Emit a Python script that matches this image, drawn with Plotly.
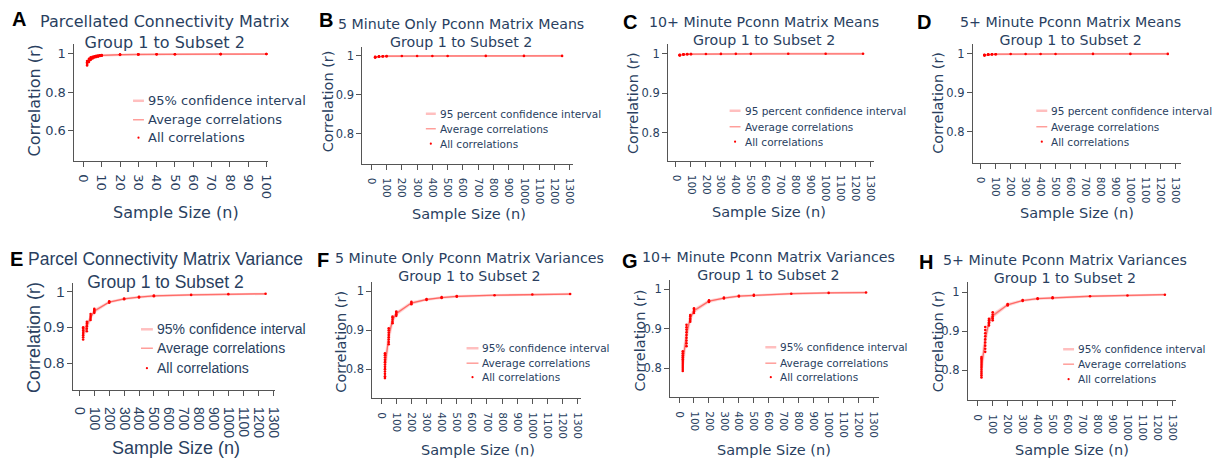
import plotly.graph_objects as go

W, H = 1223, 458

# ---------------- data ----------------
n_A = [2, 3, 4, 5, 6, 7, 8, 9, 10, 20, 30, 40, 50, 75, 100]
mean_A = [0.952, 0.968, 0.976, 0.981, 0.985, 0.987, 0.989, 0.991, 0.992, 0.996, 0.997, 0.998, 0.9985, 0.999, 0.9993]
lo_A = [0.942, 0.960, 0.970, 0.977, 0.981, 0.984, 0.987, 0.989, 0.990, 0.995, 0.9965, 0.9975, 0.998, 0.9987, 0.9991]
hi_A = [0.962, 0.975, 0.982, 0.985, 0.988, 0.990, 0.991, 0.993, 0.994, 0.997, 0.9978, 0.9985, 0.999, 0.9993, 0.9995]
all_A = [[0.940, 0.948, 0.956, 0.963], [0.958, 0.966, 0.974], [0.969, 0.976, 0.982], [0.976, 0.981, 0.985],
         [0.981, 0.985, 0.988], [0.984, 0.987, 0.990], [0.986, 0.989, 0.991], [0.989, 0.991, 0.993],
         [0.990, 0.992, 0.994], [0.995, 0.996, 0.997], [0.9965, 0.997, 0.9978], [0.9975, 0.998],
         [0.998, 0.9985], [0.9988, 0.999], [0.9992, 0.9994]]

n_L = [25, 50, 75, 100, 200, 300, 400, 500, 750, 1000, 1250]

mean_B = [0.9966, 0.9982, 0.9988, 0.9991, 0.9995, 0.9997, 0.9998, 0.9998, 0.9999, 0.9999, 0.9999]
lo_B = [0.9958, 0.9978, 0.9986, 0.9989, 0.9994, 0.9996, 0.9997, 0.9997, 0.9998, 0.9998, 0.9998]
hi_B = [0.9972, 0.9985, 0.9990, 0.9993, 0.9996, 0.9998, 0.9998, 0.9999, 0.9999, 0.9999, 1.0]
all_B = [[0.9956, 0.9962, 0.9968, 0.9974], [0.9978, 0.9982, 0.9986], [0.9986, 0.9989], [0.9989, 0.9992],
         [0.9995], [0.9997], [0.9998], [0.9998], [0.9999], [0.9999], [0.9999]]

mean_C = [0.9968, 0.9983, 0.9989, 0.9992, 0.9996, 0.9997, 0.9998, 0.9998, 0.9999, 0.9999, 0.9999]
lo_C = [0.9960, 0.9979, 0.9986, 0.9990, 0.9995, 0.9996, 0.9997, 0.9997, 0.9998, 0.9998, 0.9998]
hi_C = [0.9974, 0.9986, 0.9991, 0.9994, 0.9997, 0.9998, 0.9998, 0.9999, 0.9999, 0.9999, 1.0]
all_C = [[0.9958, 0.9964, 0.9970, 0.9976], [0.9979, 0.9983, 0.9987], [0.9987, 0.9990], [0.9990, 0.9993],
         [0.9996], [0.9997], [0.9998], [0.9998], [0.9999], [0.9999], [0.9999]]

mean_D = [0.9967, 0.9982, 0.9988, 0.9991, 0.9995, 0.9997, 0.9998, 0.9998, 0.9999, 0.9999, 0.9999]
lo_D = [0.9959, 0.9978, 0.9986, 0.9989, 0.9994, 0.9996, 0.9997, 0.9997, 0.9998, 0.9998, 0.9998]
hi_D = [0.9973, 0.9985, 0.9990, 0.9993, 0.9996, 0.9998, 0.9998, 0.9999, 0.9999, 0.9999, 1.0]
all_D = [[0.9957, 0.9963, 0.9969, 0.9975], [0.9978, 0.9982, 0.9986], [0.9986, 0.9989], [0.9989, 0.9992],
         [0.9995], [0.9997], [0.9998], [0.9998], [0.9999], [0.9999], [0.9999]]

mean_E = [0.883, 0.903, 0.928, 0.945, 0.970, 0.979, 0.984, 0.987, 0.990, 0.992, 0.993]
lo_E = [0.874, 0.896, 0.924, 0.942, 0.969, 0.978, 0.983, 0.986, 0.9895, 0.9915, 0.9925]
hi_E = [0.892, 0.910, 0.932, 0.948, 0.971, 0.980, 0.985, 0.988, 0.9905, 0.9925, 0.9935]
all_E = [[0.866, 0.872, 0.878, 0.884, 0.890, 0.896, 0.900], [0.889, 0.896, 0.903, 0.910, 0.915],
         [0.920, 0.926, 0.931, 0.937], [0.940, 0.944, 0.948, 0.951], [0.968, 0.970, 0.972],
         [0.978, 0.980], [0.983, 0.985], [0.986, 0.988], [0.990], [0.992], [0.993]]

mean_F = [0.805, 0.884, 0.926, 0.943, 0.970, 0.979, 0.984, 0.987, 0.990, 0.992, 0.993]
lo_F = [0.792, 0.874, 0.921, 0.940, 0.968, 0.978, 0.983, 0.986, 0.9895, 0.9915, 0.9925]
hi_F = [0.818, 0.894, 0.931, 0.946, 0.972, 0.980, 0.985, 0.988, 0.9905, 0.9925, 0.9935]
all_F = [[0.777, 0.782, 0.788, 0.794, 0.800, 0.806, 0.812, 0.818, 0.824, 0.830, 0.836, 0.841],
         [0.864, 0.870, 0.876, 0.882, 0.888, 0.894, 0.900, 0.905],
         [0.918, 0.922, 0.927, 0.932, 0.935], [0.937, 0.941, 0.945, 0.948],
         [0.967, 0.970, 0.973], [0.978, 0.980], [0.983, 0.985], [0.986, 0.988], [0.990], [0.992], [0.993]]

mean_G = [0.815, 0.885, 0.927, 0.946, 0.970, 0.978, 0.983, 0.985, 0.989, 0.991, 0.992]
lo_G = [0.802, 0.874, 0.922, 0.943, 0.968, 0.977, 0.982, 0.984, 0.9885, 0.9905, 0.9915]
hi_G = [0.828, 0.896, 0.932, 0.949, 0.972, 0.979, 0.984, 0.986, 0.9895, 0.9915, 0.9925]
all_G = [[0.793, 0.798, 0.803, 0.808, 0.813, 0.818, 0.823, 0.828, 0.833, 0.838, 0.843],
         [0.856, 0.863, 0.870, 0.877, 0.884, 0.891, 0.898, 0.904, 0.910],
         [0.918, 0.922, 0.926, 0.931, 0.935], [0.940, 0.944, 0.948, 0.952],
         [0.968, 0.970, 0.972], [0.977, 0.979], [0.982, 0.984], [0.984, 0.986], [0.989], [0.991], [0.992]]

mean_H = [0.805, 0.880, 0.923, 0.940, 0.968, 0.979, 0.984, 0.986, 0.990, 0.992, 0.994]
lo_H = [0.792, 0.868, 0.918, 0.936, 0.966, 0.978, 0.983, 0.985, 0.9895, 0.9915, 0.9935]
hi_H = [0.818, 0.892, 0.928, 0.944, 0.970, 0.980, 0.985, 0.987, 0.9905, 0.9925, 0.9945]
all_H = [[0.781, 0.786, 0.791, 0.796, 0.801, 0.806, 0.811, 0.816, 0.821, 0.826, 0.830, 0.834],
         [0.847, 0.855, 0.863, 0.871, 0.879, 0.887, 0.895, 0.903, 0.911],
         [0.915, 0.919, 0.923, 0.928, 0.932], [0.928, 0.933, 0.938, 0.943, 0.949],
         [0.966, 0.968, 0.970], [0.978, 0.980], [0.983, 0.985], [0.985, 0.987], [0.990], [0.992], [0.994]]

titles = {
    "A": "Parcellated Connectivity Matrix<br>Group 1 to Subset 2",
    "B": "5 Minute Only Pconn Matrix Means<br>Group 1 to Subset 2",
    "C": "10+ Minute Pconn Matrix Means<br>Group 1 to Subset 2",
    "D": "5+ Minute Pconn Matrix Means<br>Group 1 to Subset 2",
    "E": "Parcel Connectivity Matrix Variance<br>Group 1 to Subset 2",
    "F": "5 Minute Only Pconn Matrix Variances<br>Group 1 to Subset 2",
    "G": "10+ Minute Pconn Matrix Variances<br>Group 1 to Subset 2",
    "H": "5+ Minute Pconn Matrix Variances<br>Group 1 to Subset 2",
}
ci_pct = "95% confidence interval"
ci_word = "95 percent confidence interval"
leg_avg = "Average correlations"
leg_all = "All correlations"
x_title = "Sample Size (n)"
y_title = "Correlation (r)"

series = {
    "A": (n_A, mean_A, lo_A, hi_A, all_A, ci_pct),
    "B": (n_L, mean_B, lo_B, hi_B, all_B, ci_word),
    "C": (n_L, mean_C, lo_C, hi_C, all_C, ci_word),
    "D": (n_L, mean_D, lo_D, hi_D, all_D, ci_word),
    "E": (n_L, mean_E, lo_E, hi_E, all_E, ci_pct),
    "F": (n_L, mean_F, lo_F, hi_F, all_F, ci_pct),
    "G": (n_L, mean_G, lo_G, hi_G, all_G, ci_pct),
    "H": (n_L, mean_H, lo_H, hi_H, all_H, ci_pct),
}

# ---------------- layout (pixel geometry) ----------------
VER = "DejaVu Sans"
ARI = "Liberation Sans, Arial"
TXT = "#2a3f5f"
AX = "#555555"

geo = {
    # box = (x_left, x_right, y_top, y_bottom) in px
    "A": dict(box=(73, 268, 43, 160), xr=[-4.9, 100.9], yr=[0.444, 1.052], xd=10, yd=0.2, fam=VER,
              tfs=16, afs=16, xtk=13, ytk=13, lfs=13, xso=5, title=(164, 31), letter=(17, 18),
              yt=(33, 100), xt=(175, 212), leg=(132, 143, 145, [100, 119, 137])),
    "B": dict(box=(363, 575, 46, 163), xr=[-59, 1320], yr=[0.723, 1.023], xd=100, yd=0.1, fam=VER,
              tfs=14.2, afs=14.5, xtk=10.5, ytk=11.5, lfs=10.5, xso=6, title=(462, 32), letter=(326, 19),
              yt=(328, 101), xt=(470, 213), leg=(427, 437, 439, [113, 128, 143])),
    "C": dict(box=(671, 878, 43, 160), xr=[-53, 1320], yr=[0.729, 1.025], xd=100, yd=0.1, fam=VER,
              tfs=14.2, afs=14.5, xtk=10.5, ytk=11.5, lfs=10.5, xso=6, title=(768, 30), letter=(633, 21),
              yt=(635, 102), xt=(773, 211), leg=(733, 744, 746, [110, 126, 141])),
    "D": dict(box=(978, 1188, 43, 162), xr=[-53, 1340], yr=[0.7205, 1.0256], xd=100, yd=0.1, fam=VER,
              tfs=14.2, afs=14.5, xtk=10.5, ytk=11.5, lfs=10.5, xso=6, title=(1076, 30), letter=(929, 21),
              yt=(943, 102), xt=(1083, 212), leg=(1042, 1053, 1055, [110, 126, 141])),
    "E": dict(box=(72, 275, 283, 390), xr=[-40, 1313], yr=[0.725, 1.022], xd=100, yd=0.1, fam=ARI,
              tfs=17.5, afs=18, xtk=14, ytk=15, lfs=14, xso=8, title=(165, 270), letter=(15, 259),
              yt=(33, 337), xt=(175, 448), leg=(140, 152, 154, [329, 348, 368])),
    "F": dict(box=(373, 583, 282, 398), xr=[-59, 1320], yr=[0.7256, 1.023], xd=100, yd=0.1, fam=VER,
              tfs=14.2, afs=14.5, xtk=10.5, ytk=11.5, lfs=10.5, xso=6, title=(471, 267), letter=(323, 260),
              yt=(342, 341), xt=(480, 450), leg=(468, 480, 482, [348, 363, 377])),
    "G": dict(box=(673, 883, 280, 397), xr=[-60, 1333], yr=[0.7266, 1.0228], xd=100, yd=0.1, fam=VER,
              tfs=14.2, afs=14.5, xtk=10.5, ytk=11.5, lfs=10.5, xso=6, title=(772, 266), letter=(633, 261),
              yt=(643, 340), xt=(778, 450), leg=(769, 780, 782, [347, 363, 377])),
    "H": dict(box=(973, 1183, 282, 400), xr=[-66, 1326], yr=[0.723, 1.0256], xd=100, yd=0.1, fam=VER,
              tfs=14.2, afs=14.5, xtk=10.5, ytk=11.5, lfs=10.5, xso=6, title=(1071, 269), letter=(931, 262),
              yt=(943, 341), xt=(1078, 450), leg=(1069, 1080, 1082, [349, 364, 379])),
}


def px(x):
    return x / W


def py(y):
    return 1 - y / H


CI_COL = "rgba(255,0,0,0.16)"
AVG_COL = "rgba(255,40,30,0.45)"
PT_COL = "red"

fig = go.Figure()
annotations = []
shapes = []
layout_axes = {}

for i, key in enumerate("ABCDEFGH"):
    n, mean, lo, hi, pts, ci_label = series[key]
    g = geo[key]
    idx = "" if i == 0 else str(i + 1)
    xa, ya = "x" + idx, "y" + idx
    x0, x1, y0, y1 = g["box"]

    fig.add_trace(go.Scatter(x=n, y=lo, mode="lines", line=dict(color=CI_COL, width=2),
                             xaxis=xa, yaxis=ya, showlegend=False, hoverinfo="skip"))
    fig.add_trace(go.Scatter(x=n, y=hi, mode="lines", line=dict(color=CI_COL, width=2),
                             fill="tonexty", fillcolor=CI_COL,
                             xaxis=xa, yaxis=ya, showlegend=False, hoverinfo="skip"))
    fig.add_trace(go.Scatter(x=n, y=mean, mode="lines", line=dict(color=AVG_COL, width=1.3),
                             xaxis=xa, yaxis=ya, showlegend=False))
    px_all, py_all = [], []
    for nv, vals in zip(n, pts):
        for v in vals:
            px_all.append(nv)
            py_all.append(v)
    fig.add_trace(go.Scatter(x=px_all, y=py_all, mode="markers",
                             marker=dict(color=PT_COL, size=2.6, line=dict(width=0)),
                             xaxis=xa, yaxis=ya, showlegend=False))

    axcommon = dict(showline=True, linecolor=AX, linewidth=1, ticks="outside", ticklen=5,
                    tickcolor=AX, tickwidth=1, showgrid=False, zeroline=False)
    layout_axes["xaxis" + idx] = dict(
        axcommon, domain=[px(x0), px(x1)], range=g["xr"], tick0=0, dtick=g["xd"], tickangle=90,
        ticklabelstandoff=g["xso"],
        anchor=ya, tickfont=dict(family=g["fam"], size=g["xtk"], color=TXT))
    layout_axes["yaxis" + idx] = dict(
        axcommon, domain=[py(y1), py(y0)], range=g["yr"], tick0=0, dtick=g["yd"],
        anchor=xa, tickfont=dict(family=g["fam"], size=g["ytk"], color=TXT))

    # title
    tx, ty = g["title"]
    annotations.append(dict(text=titles[key], x=px(tx), y=py(ty), xref="paper", yref="paper",
                            xanchor="center", yanchor="middle", showarrow=False,
                            font=dict(family=g["fam"], size=g["tfs"], color=TXT)))
    # letter
    lx, ly = g["letter"]
    annotations.append(dict(text="<b>%s</b>" % key, x=px(lx), y=py(ly), xref="paper", yref="paper",
                            xanchor="center", yanchor="middle", showarrow=False,
                            font=dict(family="Liberation Sans, Arial", size=20, color="black")))
    # axis titles
    yx, yy = g["yt"]
    annotations.append(dict(text=y_title, x=px(yx), y=py(yy), xref="paper", yref="paper",
                            xanchor="center", yanchor="middle", showarrow=False, textangle=-90,
                            font=dict(family=g["fam"], size=g["afs"], color=TXT)))
    xx, xy = g["xt"]
    annotations.append(dict(text=x_title, x=px(xx), y=py(xy), xref="paper", yref="paper",
                            xanchor="center", yanchor="middle", showarrow=False,
                            font=dict(family=g["fam"], size=g["afs"], color=TXT)))
    # legend (manual)
    s0, s1, tx0, rows = g["leg"]
    labels = [ci_label, leg_avg, leg_all]
    for r, lab in zip(rows, labels):
        annotations.append(dict(text=lab, x=px(tx0), y=py(r), xref="paper", yref="paper",
                                xanchor="left", yanchor="middle", showarrow=False,
                                font=dict(family=g["fam"], size=g["lfs"], color=TXT)))
    shapes.append(dict(type="line", xref="paper", yref="paper", x0=px(s0), x1=px(s1),
                       y0=py(rows[0]), y1=py(rows[0]), line=dict(color="rgba(255,0,0,0.25)", width=2.5)))
    shapes.append(dict(type="line", xref="paper", yref="paper", x0=px(s0), x1=px(s1),
                       y0=py(rows[1]), y1=py(rows[1]), line=dict(color=AVG_COL, width=1.5)))
    cx = (s0 + s1) / 2
    shapes.append(dict(type="circle", xref="paper", yref="paper", x0=px(cx - 1.1), x1=px(cx + 1.1),
                       y0=py(rows[2] + 1.1), y1=py(rows[2] - 1.1),
                       fillcolor=PT_COL, line=dict(width=0)))

fig.update_layout(
    width=W, height=H, margin=dict(l=0, r=0, t=0, b=0),
    paper_bgcolor="white", plot_bgcolor="white",
    showlegend=False, annotations=annotations, shapes=shapes,
    **layout_axes,
)

fig.write_html("out.html")
